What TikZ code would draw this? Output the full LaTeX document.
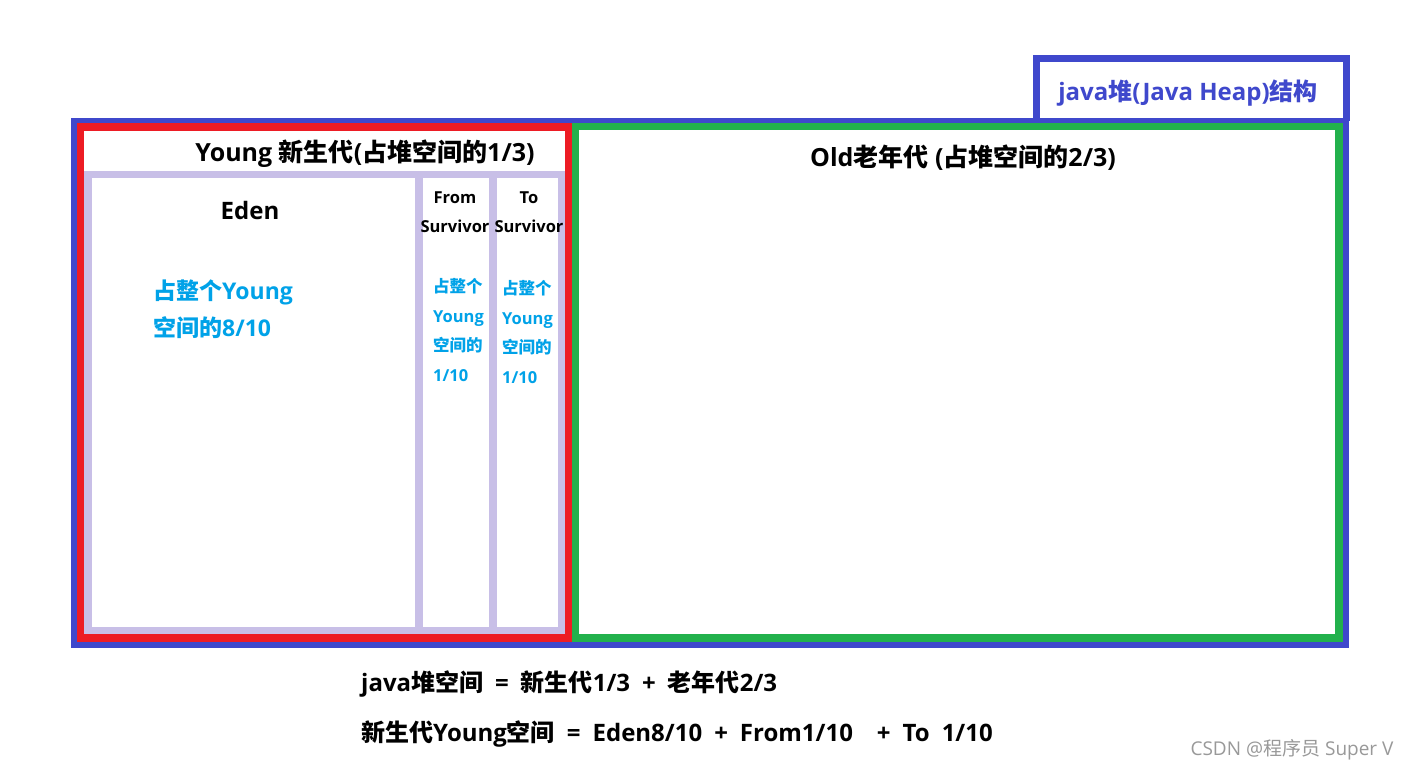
\documentclass[tikz,border=0pt]{standalone}
\usepackage{fontspec}
\setmainfont{Open Sans}
\newfontfamily\cjkfont{Noto Sans CJK SC}
\newcommand\zh[1]{{\cjkfont #1}}
\usetikzlibrary{positioning, backgrounds}

\definecolor{heapblue}{RGB}{63,72,204}
\definecolor{youngred}{RGB}{237,28,36}
\definecolor{oldgreen}{RGB}{34,177,76}
\definecolor{spacelilac}{RGB}{200,191,231}
\definecolor{ratiocyan}{RGB}{0,162,232}

\tikzset{
    heap/.style={draw=heapblue, line width=6pt}, % outer frame and tab of the heap
    gen/.style={line width=7.5pt}, % frames of the young and old generation
    spacebox/.style={draw=spacelilac, line width=7.5pt}, % eden and survivor spaces
    gentitle/.style={inner sep=0pt, font=\bfseries\fontsize{25}{30}\selectfont}, % black titles
    survivor/.style={inner sep=0pt, align=center, font=\bfseries\fontsize{16.5}{29.5}\selectfont}, % survivor names
    ratio/.style={inner sep=0pt, anchor=west, align=left, text=ratiocyan}, % cyan shares
    formula/.style={inner sep=0pt, anchor=west, font=\bfseries\fontsize{24}{28}\selectfont,
        execute at begin node={\spaceskip=0.5em\relax}}, % sums under the heap
}

\begin{document}
\begin{tikzpicture}[x=1pt, y=-1pt, background rectangle/.style={fill=white}, show background rectangle, inner frame sep=0pt]
        \useasboundingbox (0,0) rectangle (1411,771);

        % Frames
        \draw[heap] (74.2,120.5) rectangle (1346.3,645);
        \draw[heap, line width=7pt] (1036.5,120.5) |- (1346.3,58) -- (1346.3,120.5);
        \draw[gen, draw=youngred] (80.3,127) rectangle (568.7,637.8);
        \draw[gen, draw=oldgreen] (575.5,126.7) rectangle (1338.8,637.8);
        \draw[spacebox] (87.8,174.5) rectangle (561.7,630.3);
        \draw[spacebox] (419.2,174.5) -- (419.2,630.3);
        \draw[spacebox] (492.8,174.5) -- (492.8,630.3);

        % Nodes
        \node[gentitle] (youngtitle) at (365,154) {Young \zh{新生代}(\zh{占堆空间的}1/3)};
        \node[gentitle] (oldtitle) at (963,158) {Old\zh{老年代} (\zh{占堆空间的}2/3)};
        \node[gentitle, text=heapblue, font=\bfseries\fontsize{24}{28}\selectfont] (heaptitle) at (1188,93) {java\zh{堆}(Java Heap)\zh{结构}};
        \node[gentitle, font=\bfseries\fontsize{24}{28}\selectfont] (eden) at (250,210) {Eden};
        \node[ratio, font=\bfseries\fontsize{23}{36.5}\selectfont] (edenratio) at (153,309) {\zh{占整个}Young\\\zh{空间的}8/10};
        \node[survivor] (from) at (455,212) {From\\Survivor};
        \node[survivor] (to) at (529,212) {To\\Survivor};
        \node[ratio, font=\bfseries\fontsize{16.5}{29.5}\selectfont] (fromratio) at (433,330) {\zh{占整个}\\Young\\\zh{空间的}\\1/10};
        \node[ratio, font=\bfseries\fontsize{16.5}{29.5}\selectfont] (toratio) at (502,332) {\zh{占整个}\\Young\\\zh{空间的}\\1/10};
        \node[formula] (heapsum) at (361,684) {java\zh{堆空间} = \zh{新生代}1/3 + \zh{老年代}2/3};
        \node[formula, below=50pt of heapsum.west, anchor=west] (youngsum) {\zh{新生代}Young\zh{空间} = Eden8/10 + From1/10 \ + To 1/10};
        \node[inner sep=0pt, text=black!40, font=\fontsize{19}{22}\selectfont] (mark) at (1292,750) {CSDN @\zh{程序员} Super V};
\end{tikzpicture}
\end{document}
